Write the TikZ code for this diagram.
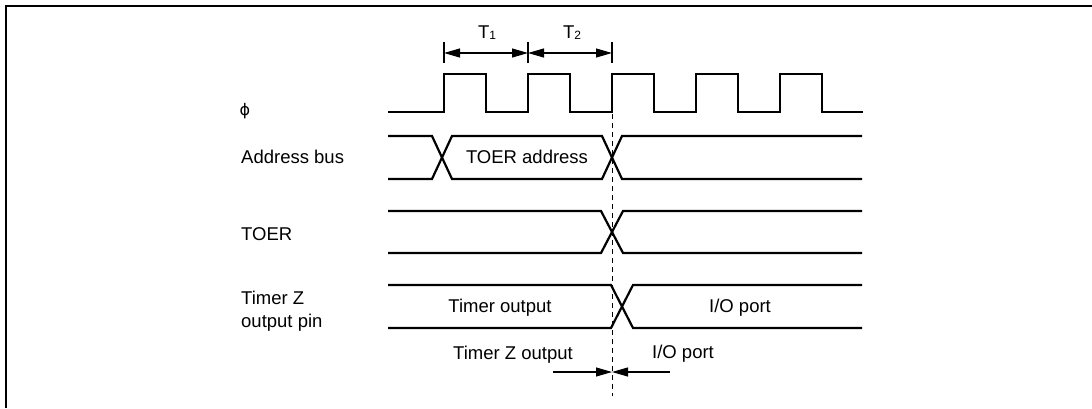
\documentclass[tikz,border=0pt]{standalone}
\usepackage{fontspec}
\setmainfont{Liberation Sans}
\newfontfamily\dvfont{DejaVu Sans}
\usetikzlibrary{arrows.meta}
\begin{document}
\begin{tikzpicture}[x=1pt,y=-1pt,
  sig/.style={line width=2.2pt,line join=miter},
  dim/.style={line width=1.1pt},
  tick/.style={line width=1.1pt},
  tri/.style={-{Triangle[length=16pt,width=9pt]}},
  lbl/.style={inner sep=0pt,font=\fontsize{18.5}{23}\selectfont},
  lab/.style={lbl,anchor=west,align=left}]
\useasboundingbox (0,0) rectangle (1092,408);
% frame
\draw[line width=2.2pt] (6,408) -- (6,6) -- (1092,6);
% labels
\node[inner sep=0pt] (phi) at (245,111) {\dvfont\fontsize{16}{16}\selectfont ϕ};
\node[lab] (lab) at (241,157) {Address bus};
\node[lab] (lt) at (241,234) {TOER};
\node[lab] (lz) at (241,311) {Timer Z\\output pin};
% clock
\draw[sig] (388,112) -- (444,112) -- (444,74) -- (486,74) -- (486,112)
  -- (528,112) -- (528,74) -- (570,74) -- (570,112)
  -- (612,112) -- (612,74) -- (654,74) -- (654,112)
  -- (696,112) -- (696,74) -- (738,74) -- (738,112)
  -- (780,112) -- (780,74) -- (822,74) -- (822,112) -- (863,112);
% address bus
\draw[sig] (388,136) -- (432,136) -- (452,179) -- (602,179) -- (622,136) -- (862,136);
\draw[sig] (388,179) -- (432,179) -- (452,136) -- (602,136) -- (622,179) -- (862,179);
\node[lbl] (ta) at (527,157) {TOER address};
% TOER
\draw[sig] (388,211) -- (601,211) -- (623,253) -- (862,253);
\draw[sig] (388,253) -- (601,253) -- (623,211) -- (862,211);
% Timer Z output pin
\draw[sig] (388,285) -- (611,285) -- (633,328) -- (862,328);
\draw[sig] (388,328) -- (611,328) -- (633,285) -- (862,285);
\node[lbl] (to) at (500,308) {Timer output};
\node[lbl] (io) at (740,308) {I/O port};
% dashed reference line
\coordinate (dtop) at (612,114);
\coordinate (dbot) at (612,396);
\draw[line width=1pt,dash pattern=on 5pt off 4pt] (dtop) -- (dbot);
% T1 / T2 dimension
\coordinate (k1) at (444,53);
\coordinate (k2) at (528,53);
\coordinate (k3) at (612,53);
\foreach \c in {k1,k2,k3} \draw[tick] ([yshift=-10pt]\c) -- ([yshift=11pt]\c);
\coordinate (m1) at (486,53);
\coordinate (m2) at (570,53);
\draw[dim,tri] (m1) -- (k1);
\draw[dim,tri] (m1) -- (k2);
\draw[dim,tri] (m2) -- (k2);
\draw[dim,tri] (m2) -- (k3);
\node[lbl] (t1) at (487,33) {T\raisebox{-1pt}{\fontsize{12}{12}\selectfont 1}};
\node[lbl] (t2) at (572,33) {T\raisebox{-1pt}{\fontsize{12}{12}\selectfont 2}};
% bottom annotation
\node[lbl] (tzo) at (513,355) {Timer Z output};
\node[lbl] (iob) at (683,354) {I/O port};
\coordinate (aL) at (553,372);
\coordinate (aM) at (612,372);
\coordinate (aR) at (670,372);
\draw[dim,tri] (aL) -- (aM);
\draw[dim,tri] (aR) -- (aM);
\end{tikzpicture}
\end{document}
